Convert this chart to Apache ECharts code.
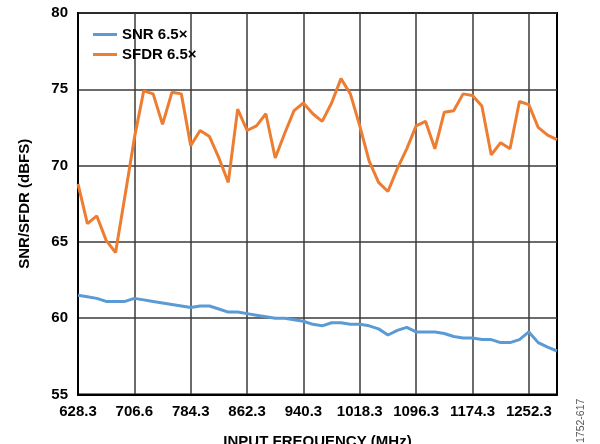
<!DOCTYPE html>
<html>
<head>
<meta charset="utf-8">
<script src="https://cdn.jsdelivr.net/npm/echarts@6/dist/echarts.min.js"></script>
<style>
html,body{margin:0;padding:0;background:#fff;}
#chart{width:600px;height:444px;}
</style>
</head>
<body>
<div id="chart"></div>
<script>
var frequencies = [
  '628.3','641.3','654.3','667.3','680.3','693.3','706.6','719.3','732.3','745.3',
  '758.3','771.3','784.3','797.3','810.3','823.3','836.3','849.3','862.3','875.3',
  '888.3','901.3','914.3','927.3','940.3','953.3','966.3','979.3','992.3','1005.3',
  '1018.3','1031.3','1044.3','1057.3','1070.3','1083.3','1096.3','1109.3','1122.3','1135.3',
  '1148.3','1161.3','1174.3','1187.3','1200.3','1213.3','1226.3','1239.3','1252.3','1265.3',
  '1278.3','1291.3'
];
var snr = [
  61.5, 61.4, 61.3, 61.1, 61.1, 61.1, 61.3, 61.2, 61.1, 61.0,
  60.9, 60.8, 60.7, 60.8, 60.8, 60.6, 60.4, 60.4, 60.3, 60.2,
  60.1, 60.0, 60.0, 59.9, 59.8, 59.6, 59.5, 59.7, 59.7, 59.6,
  59.6, 59.5, 59.3, 58.9, 59.2, 59.4, 59.1, 59.1, 59.1, 59.0,
  58.8, 58.7, 58.7, 58.6, 58.6, 58.4, 58.4, 58.6, 59.1, 58.4,
  58.1, 57.85
];
var sfdr = [
  68.8, 66.2, 66.7, 65.1, 64.3, 68.0, 71.8, 74.9, 74.7, 72.7,
  74.8, 74.7, 71.3, 72.3, 71.9, 70.5, 68.9, 73.7, 72.3, 72.6,
  73.4, 70.5, 72.1, 73.6, 74.1, 73.4, 72.9, 74.1, 75.7, 74.7,
  72.6, 70.3, 68.9, 68.3, 69.8, 71.1, 72.6, 72.9, 71.1, 73.5,
  73.6, 74.7, 74.6, 73.9, 70.7, 71.5, 71.1, 74.2, 74.0, 72.5,
  72.0, 71.7
];
var seriesNames = ['SNR 6.5\u00d7', 'SFDR 6.5\u00d7'];
var yTicks = { min: 55, max: 80, step: 5 };
var xTitle = 'INPUT FREQUENCY (MHz)';
var yTitle = 'SNR/SFDR (dBFS)';
var figureId = '1752-617';

var FONT = '"Liberation Sans", Arial, sans-serif';
var chart = echarts.init(document.getElementById('chart'), null, {renderer: 'canvas'});
chart.setOption({
  animation: false,
  backgroundColor: '#fff',
  textStyle: {fontFamily: FONT},
  grid: {
    left: 78, right: 43, top: 13, bottom: 49.5,
    containLabel: false,
    outerBoundsMode: 'none',
    show: true, borderColor: '#000', borderWidth: 2, backgroundColor: 'transparent'
  },
  legend: {
    left: 88, top: 22, orient: 'vertical',
    icon: 'rect',
    itemWidth: 24, itemHeight: 3, itemGap: 5,
    textStyle: {fontFamily: FONT, fontWeight: 'bold', fontSize: 15, color: '#000'},
    data: seriesNames
  },
  xAxis: {
    type: 'category',
    data: frequencies,
    boundaryGap: false,
    name: xTitle,
    nameLocation: 'middle',
    nameGap: 40,
    nameTextStyle: {fontFamily: FONT, fontWeight: 'bold', fontSize: 15, color: '#000'},
    axisLine: {show: true, lineStyle: {color: '#000', width: 2}},
    axisTick: {show: false},
    axisLabel: {interval: 5, margin: 10, fontFamily: FONT, fontWeight: 'bold', fontSize: 15, color: '#000'},
    splitLine: {show: true, interval: 5, lineStyle: {color: '#3a3a3a', width: 1.5}}
  },
  yAxis: {
    type: 'value',
    min: yTicks.min, max: yTicks.max, interval: yTicks.step,
    name: yTitle,
    nameLocation: 'middle',
    nameRotate: 90,
    nameGap: 46,
    nameTextStyle: {fontFamily: FONT, fontWeight: 'bold', fontSize: 15, color: '#000'},
    axisLine: {show: true, lineStyle: {color: '#000', width: 2}},
    axisTick: {show: false},
    axisLabel: {margin: 10, fontFamily: FONT, fontWeight: 'bold', fontSize: 15, color: '#000'},
    splitLine: {show: true, lineStyle: {color: '#3a3a3a', width: 1.5}}
  },
  graphic: [{
    type: 'text',
    x: 576, y: 443,
    rotation: Math.PI / 2,
    style: {text: figureId, font: '10.5px ' + FONT, fill: '#555', align: 'left', verticalAlign: 'top'}
  }],
  series: [
    {
      name: seriesNames[0], type: 'line', data: snr,
      symbol: 'none', color: '#5b9bd5',
      lineStyle: {width: 3, color: '#5b9bd5'}
    },
    {
      name: seriesNames[1], type: 'line', data: sfdr,
      symbol: 'none', color: '#ed7d31',
      lineStyle: {width: 3, color: '#ed7d31'}
    }
  ]
});
</script>
</body>
</html>
